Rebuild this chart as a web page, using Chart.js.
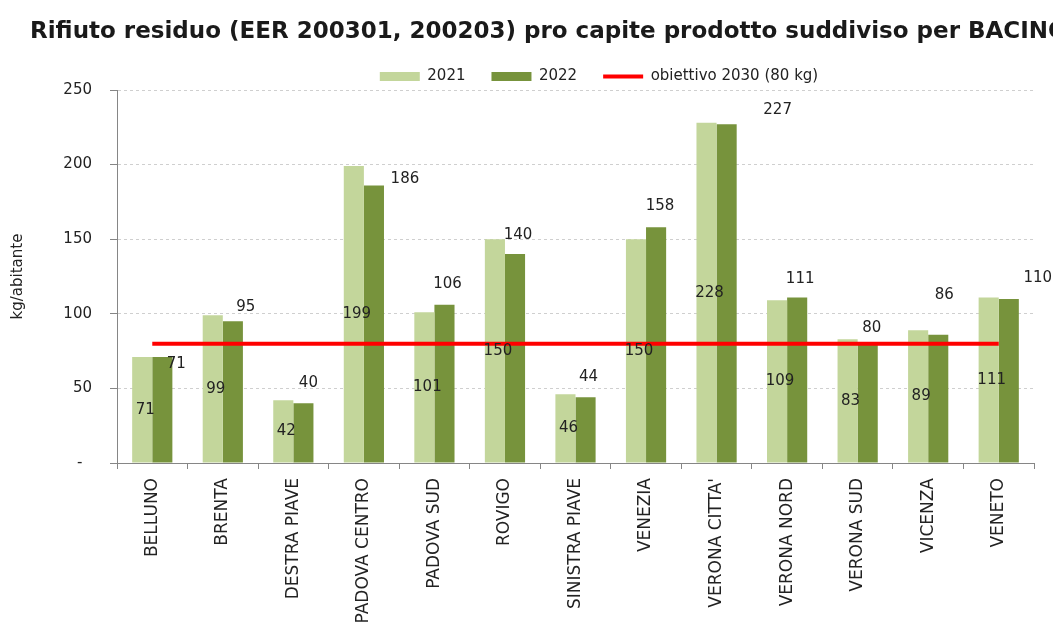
<!DOCTYPE html>
<html lang="it">
<head>
<meta charset="utf-8">
<title>Rifiuto residuo pro capite per bacino</title>
<script src="https://cdn.jsdelivr.net/npm/chart.js@4.4.1/dist/chart.umd.min.js"></script>
<style>
  html, body { margin: 0; padding: 0; background: #fff; }
  #wrap { position: relative; width: 1053px; height: 623px; overflow: hidden; }
  #chart-title {
    position: absolute; left: 30px; top: 19px; margin: 0;
    font: bold 23px "DejaVu Sans", sans-serif; line-height: 23px;
    color: #1a1a1a; white-space: nowrap;
  }
</style>
</head>
<body>
<div id="wrap">
  <h1 id="chart-title">Rifiuto residuo (EER 200301, 200203) pro capite prodotto suddiviso per BACINO</h1>
  <canvas id="chart"></canvas>
</div>
<script>
const bacini = ['BELLUNO', 'BRENTA', 'DESTRA PIAVE', 'PADOVA CENTRO', 'PADOVA SUD', 'ROVIGO',
  'SINISTRA PIAVE', 'VENEZIA', "VERONA CITTA'", 'VERONA NORD', 'VERONA SUD', 'VICENZA', 'VENETO'];
const valori2021 = [71, 99, 42, 199, 101, 150, 46, 150, 228, 109, 83, 89, 111];
const valori2022 = [71, 95, 40, 186, 106, 140, 44, 158, 227, 111, 80, 86, 110];
const obiettivo2030 = [80, 80, 80, 80, 80, 80, 80, 80, 80, 80, 80, 80, 80];
const yTicks = [0, 50, 100, 150, 200, 250];

// where the 2022 value labels sit, relative to the top of each bar (px)
const offsets2022 = [[14, 7], [13, -14], [5, -20], [31, -6], [3, -21], [3, -19], [3, -20],
  [4, -21], [51, -14], [3, -18], [4, -16], [6, -40], [29, -21]];

const textColor = '#222222';
const axisColor = '#868686';
const font = size => ({ family: '"DejaVu Sans", sans-serif', size: size });

const valueLabels = {
  id: 'valueLabels',
  afterDatasetsDraw(chart) {
    const ctx = chart.ctx;
    ctx.save();
    ctx.font = '15px "DejaVu Sans", sans-serif';
    ctx.fillStyle = textColor;
    ctx.textAlign = 'center';
    ctx.textBaseline = 'middle';
    chart.getDatasetMeta(0).data.forEach((bar, i) => {
      ctx.fillText(valori2021[i], bar.x + 3, (bar.y + bar.base) / 2);
    });
    chart.getDatasetMeta(1).data.forEach((bar, i) => {
      const [dx, dy] = offsets2022[i];
      ctx.fillText(valori2022[i], bar.x + dx, bar.y + dy);
    });
    ctx.restore();
  }
};

// legend sits right of centre and a bit lower in the original
const legendShift = {
  id: 'legendShift',
  afterLayout(chart) {
    chart.legend.left += 82;
    chart.legend.right += 82;
    chart.legend.top += 4;
    chart.legend.bottom += 4;
  }
};

new Chart(document.getElementById('chart'), {
  type: 'bar',
  data: {
    labels: bacini,
    datasets: [
      {
        label: '2021',
        data: valori2021,
        backgroundColor: '#c3d69b',
        borderWidth: 0,
        pointStyle: 'rect',
        order: 1
      },
      {
        label: '2022',
        data: valori2022,
        backgroundColor: '#77933c',
        borderWidth: 0,
        pointStyle: 'rect',
        order: 1
      },
      {
        type: 'line',
        label: 'obiettivo 2030 (80 kg)',
        data: obiettivo2030,
        borderColor: '#ff0000',
        backgroundColor: '#ff0000',
        borderWidth: 4,
        pointRadius: 0,
        pointStyle: 'line',
        order: 0
      }
    ]
  },
  options: {
    responsive: true,
    maintainAspectRatio: false,
    animation: false,
    categoryPercentage: 0.57,
    barPercentage: 1.0,
    layout: { padding: { top: 39, right: 19, bottom: 0, left: 0 } },
    plugins: {
      tooltip: { enabled: false },
      legend: {
        position: 'top',
        labels: {
          usePointStyle: true,
          pointStyleWidth: 40,
          boxHeight: 9,
          padding: 26,
          color: textColor,
          font: font(15),
          sort: (a, b) => a.datasetIndex - b.datasetIndex
        }
      }
    },
    scales: {
      x: {
        grid: {
          drawOnChartArea: false,
          drawTicks: true,
          tickLength: 6,
          color: axisColor
        },
        border: { color: axisColor, width: 1 },
        ticks: {
          color: textColor,
          font: font(17),
          minRotation: 90,
          maxRotation: 90,
          autoSkip: false,
          padding: 9
        },
        afterFit: scale => { scale.height = 160; }
      },
      y: {
        min: 0,
        max: 250,
        afterBuildTicks: scale => { scale.ticks = yTicks.map(v => ({ value: v })); },
        grid: {
          color: '#cfcfcf',
          tickColor: axisColor,
          tickLength: 7,
          tickBorderDash: []
        },
        border: { color: axisColor, width: 1, dash: [3, 3] },
        ticks: {
          color: textColor,
          font: font(15),
          padding: 18,
          callback: v => (v === 0 ? '-  ' : v)
        },
        title: {
          display: true,
          text: 'kg/abitante',
          color: textColor,
          font: font(15),
          padding: { top: 9, bottom: 0 }
        },
        afterFit: scale => { scale.width = 117; }
      }
    }
  },
  plugins: [valueLabels, legendShift]
});
</script>
</body>
</html>
